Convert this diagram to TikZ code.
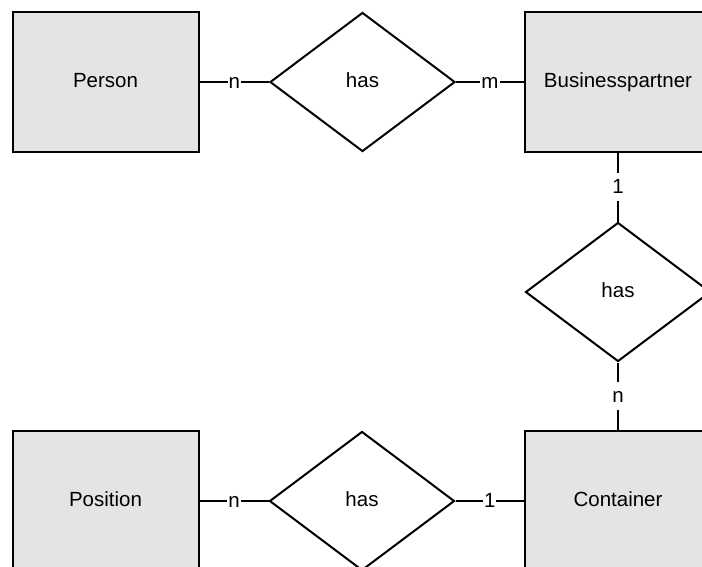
\documentclass[tikz,border=0pt]{standalone}
\usepackage{fontspec}
\setmainfont{Liberation Sans}
\usetikzlibrary{shapes.geometric}
\definecolor{entityfill}{RGB}{228,228,228}
\tikzset{
  entity/.style={draw=black, line width=2pt, fill=entityfill, rectangle,
    minimum width=186pt, minimum height=140pt, inner sep=0pt,
    text height=15pt, text depth=5pt},
  relation/.style={draw=black, line width=2pt, fill=white, diamond,
    minimum width=185pt, minimum height=139pt, inner sep=0pt,
    text height=15pt, text depth=5pt},
  conn/.style={draw=black, line width=2pt},
  card/.style={fill=white, inner xsep=1pt, inner ysep=1pt,
    text height=19pt, text depth=7pt},
}
\begin{document}
\begin{tikzpicture}[x=1pt, y=-1pt, font=\fontsize{20.5}{24}\selectfont]
  \useasboundingbox (0,0) rectangle (702,566);
  \fill[white] (0,0) rectangle (702,566);
  \clip (0,0) rectangle (702,566);

  % entities
  \node[entity] (person)   at (105.5,82)  {Person};
  \node[entity] (partner)  at (618,82)    {Businesspartner};
  \node[entity] (position) at (105.5,501) {Position};
  \node[entity] (container) at (618,501)  {Container};

  % relationships
  \node[relation] (hasTop)    at (362.5,82)  {has};
  \node[relation] (hasRight)  at (618,292)   {has};
  \node[relation] (hasBottom) at (362,501)   {has};

  % connectors with cardinalities
  \draw[conn] (person) -- node[card] {n} (hasTop);
  \draw[conn] (hasTop) -- node[card] {m} (partner);
  \draw[conn] (partner.south) -- node[card] {1} (hasRight.north);
  \draw[conn] (hasRight.south) -- node[card] {n} (container.north);
  \draw[conn] (position) -- node[card] {n} (hasBottom);
  \draw[conn] (hasBottom) -- node[card] {1} (container);
\end{tikzpicture}
\end{document}
